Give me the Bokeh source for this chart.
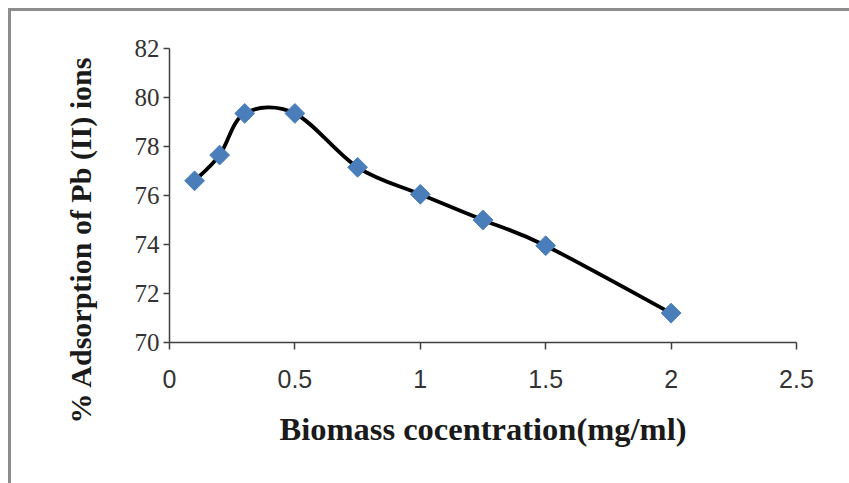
import numpy as np
from bokeh.plotting import figure
from bokeh.models import FixedTicker, Title
from bokeh.embed import file_html
from bokeh.resources import INLINE

# Data
biomass = [0.1, 0.2, 0.3, 0.5, 0.75, 1.0, 1.25, 1.5, 2.0]
adsorption = [76.6, 77.65, 79.35, 79.35, 77.15, 76.05, 75.0, 73.95, 71.2]

x_ticks = [0, 0.5, 1, 1.5, 2, 2.5]
x_tick_labels = ["0", "0.5", "1", "1.5", "2", "2.5"]
y_ticks = [70, 72, 74, 76, 78, 80, 82]
y_tick_labels = ["70", "72", "74", "76", "78", "80", "82"]

x_title = "Biomass cocentration(mg/ml)"
y_title = "% Adsorption of Pb (II) ions"

# Smoothed line (Catmull-Rom style Bezier segments, like a spreadsheet "smooth line")
xs = np.array(biomass, dtype=float)
ys = np.array(adsorption, dtype=float)
n = len(xs)
x0, y0, x1, y1, cx0, cy0, cx1, cy1 = [], [], [], [], [], [], [], []
for i in range(n - 1):
    ip = max(i - 1, 0)
    inx = min(i + 2, n - 1)
    x0.append(xs[i]); y0.append(ys[i])
    x1.append(xs[i + 1]); y1.append(ys[i + 1])
    cx0.append(xs[i] + (xs[i + 1] - xs[ip]) / 6.0)
    cy0.append(ys[i] + (ys[i + 1] - ys[ip]) / 6.0)
    cx1.append(xs[i + 1] - (xs[inx] - xs[i]) / 6.0)
    cy1.append(ys[i + 1] - (ys[inx] - ys[i]) / 6.0)

p = figure(
    frame_width=627, frame_height=294,
    x_range=(0, 2.5), y_range=(70, 82),
    output_backend="svg", toolbar_location=None,
    min_border_left=158, min_border_right=53,
    min_border_top=37, min_border_bottom=141,
)
p.styles = {"border-top": "3px solid #8c8c8c", "border-left": "3px solid #8c8c8c",
            "margin-left": "8px", "margin-top": "8px"}
p.outline_line_color = None
p.xgrid.visible = False
p.ygrid.visible = False
p.background_fill_color = "white"
p.border_fill_color = "white"

p.bezier(x0=x0, y0=y0, x1=x1, y1=y1, cx0=cx0, cy0=cy0, cx1=cx1, cy1=cy1,
         line_color="black", line_width=3.8)
p.scatter(biomass, adsorption, marker="square", angle=np.pi / 4, size=14,
          fill_color="#4a7ebb", line_color="#4a7ebb")

xa = p.xaxis[0]
xa.ticker = FixedTicker(ticks=x_ticks)
xa.major_label_overrides = {t: l for t, l in zip(x_ticks, x_tick_labels)}
xa.axis_label = x_title
xa.axis_label_text_font = "Liberation Serif"
xa.axis_label_text_font_style = "bold"
xa.axis_label_text_font_size = "32.5px"
xa.axis_label_text_color = "#1a1a1a"
xa.axis_label_standoff = 20
xa.major_label_text_font = "Liberation Sans"
xa.major_label_text_font_size = "25px"
xa.major_label_text_color = "#333333"
xa.major_label_standoff = 20
xa.major_tick_out = 7
xa.major_tick_in = 0
xa.minor_tick_line_color = None
xa.axis_line_color = "#404040"
xa.axis_line_width = 1.5
xa.major_tick_line_color = "#404040"
xa.major_tick_line_width = 1.5

ya = p.yaxis[0]
ya.ticker = FixedTicker(ticks=y_ticks)
ya.major_label_overrides = {t: l for t, l in zip(y_ticks, y_tick_labels)}
ya.major_label_text_font = "Liberation Serif"
ya.major_label_text_font_size = "25px"
ya.major_label_text_color = "#333333"
ya.major_label_standoff = 4
ya.major_tick_out = 6
ya.major_tick_in = 0
ya.minor_tick_line_color = None
ya.axis_line_color = "#404040"
ya.axis_line_width = 1.5
ya.major_tick_line_color = "#404040"
ya.major_tick_line_width = 1.5

# Y title as a side title, so it can sit a little below the frame centre
p.add_layout(Title(text=y_title, align="left", offset=-81, standoff=70,
                   text_font="Liberation Serif", text_font_style="bold",
                   text_font_size="30px", text_color="#1a1a1a"), "left")

open("out.html", "w").write(file_html(p, INLINE))
